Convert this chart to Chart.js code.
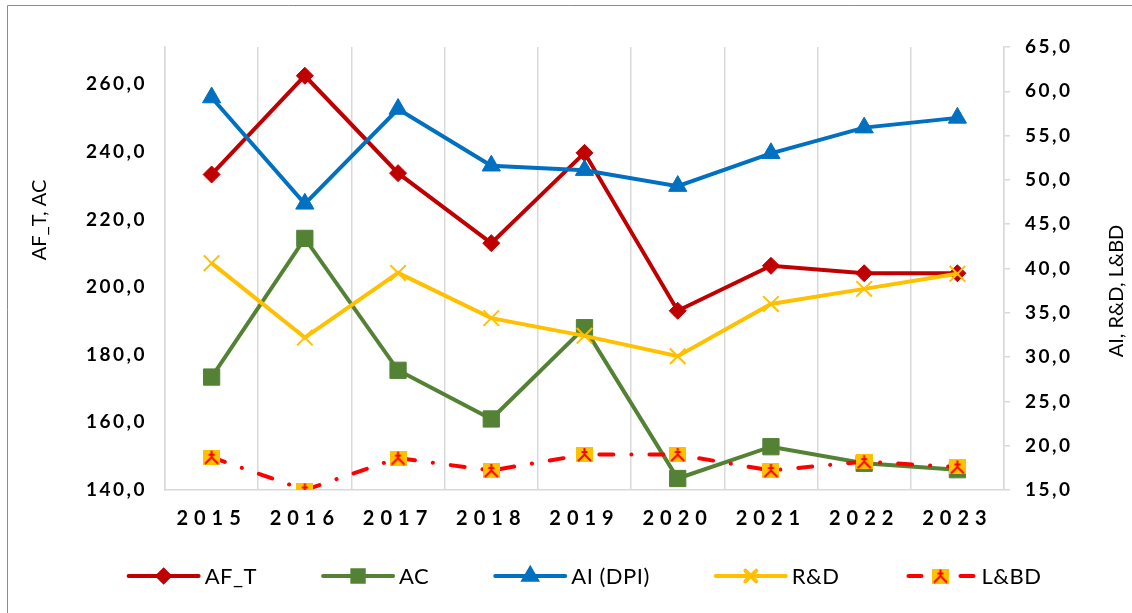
<!DOCTYPE html>
<html>
<head>
<meta charset="utf-8">
<script src="https://cdn.jsdelivr.net/npm/chart.js@4.4.1/dist/chart.umd.min.js"></script>
<style>
  html, body { margin: 0; padding: 0; background: #fff; }
  #wrap { width: 1132px; height: 613px; }
</style>
</head>
<body>
<div id="wrap"><canvas id="myChart" width="1132" height="613"></canvas></div>
<script>
const years = ['2015', '2016', '2017', '2018', '2019', '2020', '2021', '2022', '2023']

// left axis series
const afT = [233.3, 262.5, 233.7, 213.0, 239.7, 193.0, 206.3, 204.1, 204.1]
const ac = [173.4, 214.4, 175.4, 161.0, 188.0, 143.4, 152.8, 147.9, 146.0]

// right axis series
const aiDpi = [59.3, 47.3, 58.0, 51.6, 51.1, 49.3, 53.0, 55.9, 57.0]
const rnd = [40.6, 32.2, 39.5, 34.4, 32.4, 30.1, 36.0, 37.7, 39.4]
const lbd = [18.7, 15.0, 18.6, 17.2, 19.0, 19.0, 17.2, 18.2, 17.6]

const leftTitle = 'AF_T, AC'
const rightTitle = 'AI, R&D, L&BD'

const ctx = document.getElementById('myChart').getContext('2d')

// yellow box with red star, like the excel marker
function makeStarBox(){
    const c = document.createElement('canvas')
    c.width = 17
    c.height = 15
    const g = c.getContext('2d')
    g.fillStyle = '#FFC000'
    g.fillRect(0, 0, 17, 15)
    g.strokeStyle = '#FF0000'
    g.lineWidth = 2
    g.beginPath()
    g.moveTo(8.5, 1); g.lineTo(8.5, 8)
    g.moveTo(8.5, 7.5); g.lineTo(2, 14)
    g.moveTo(8.5, 7.5); g.lineTo(15, 14)
    g.moveTo(5.5, 5); g.lineTo(11.5, 5)
    g.stroke()
    return c
}
const starBox = makeStarBox()

const fmt = v => v.toFixed(1).replace('.', ',')

const framePlugin = {
    id: 'frame',
    beforeDraw(chart){
        const c = chart.ctx
        c.save()
        c.fillStyle = '#fff'
        c.fillRect(0, 0, chart.width, chart.height)
        c.strokeStyle = '#8c8c8c'
        c.lineWidth = 1
        c.beginPath()
        c.moveTo(7.5, chart.height)
        c.lineTo(7.5, 5.5)
        c.lineTo(chart.width, 5.5)
        c.stroke()
        c.restore()

        // spaced out tick labels
        const spacing = {x: '6px', y: '2.5px', y1: '2.5px'}
        Object.keys(spacing).forEach(id => {
            const s = chart.scales[id]
            if(!s || s._spaced) return
            const orig = s.drawLabels
            s.drawLabels = function(area){
                const prev = this.ctx.letterSpacing
                this.ctx.letterSpacing = spacing[id]
                orig.call(this, area)
                this.ctx.letterSpacing = prev
            }
            s._spaced = true
        })
    },
    afterDraw(chart){
        const c = chart.ctx
        c.save()
        c.fillStyle = '#000'
        c.font = '20px Lato'
        c.textAlign = 'center'
        c.textBaseline = 'middle'
        c.translate(40, 220)
        c.rotate(-Math.PI / 2)
        c.fillText(leftTitle, 0, 0)
        c.restore()

        c.save()
        c.fillStyle = '#000'
        c.font = '20px Lato'
        c.textAlign = 'center'
        c.textBaseline = 'middle'
        c.translate(1117, 291)
        c.rotate(-Math.PI / 2)
        c.fillText(rightTitle, 0, 0)
        c.restore()

        // legend: line + marker + label
        c.save()
        c.font = '22px Lato'
        c.letterSpacing = '0.5px'
        c.textBaseline = 'middle'
        const lineLen = 70, textGap = 6, itemGap = 66
        const sets = chart.data.datasets
        const widths = sets.map(d => c.measureText(d.label).width)
        let total = itemGap * (sets.length - 1)
        widths.forEach(w => total += lineLen + textGap + w)
        let x = 585 - total / 2
        const y = 576
        sets.forEach((ds, i) => {
            c.strokeStyle = ds.borderColor
            c.lineWidth = ds.borderWidth
            c.lineCap = 'round'
            if(ds.borderDash){
                c.beginPath(); c.moveTo(x + 3, y); c.lineTo(x + 16, y); c.stroke()
                c.beginPath(); c.moveTo(x + 55, y); c.lineTo(x + 68, y); c.stroke()
            } else {
                c.beginPath(); c.moveTo(x, y); c.lineTo(x + lineLen, y); c.stroke()
            }
            c.fillStyle = ds.pointBackgroundColor
            c.strokeStyle = ds.pointBorderColor
            Chart.helpers.drawPoint(c, {
                pointStyle: ds.pointStyle,
                radius: ds.pointRadius * 0.7,
                borderWidth: ds.pointBorderWidth,
                rotation: 0
            }, x + lineLen / 2, y)
            c.fillStyle = '#000'
            c.fillText(ds.label, x + lineLen + textGap, y + 1)
            x += lineLen + textGap + widths[i] + itemGap
        })
        c.restore()
    }
}

const myChart = new Chart(ctx, {
    type: 'line',
    data: {
        labels: years,
        datasets: [{
            label: 'AF_T',
            data: afT,
            yAxisID: 'y',
            order: 5,
            borderColor: '#C00000',
            borderWidth: 4,
            pointStyle: 'rectRot',
            pointRadius: 8.5,
            pointBackgroundColor: '#C00000',
            pointBorderColor: '#C00000',
            pointBorderWidth: 1
        },
        {
            label: 'AC',
            data: ac,
            yAxisID: 'y',
            order: 4,
            borderColor: '#548235',
            borderWidth: 4,
            pointStyle: 'rect',
            pointRadius: 11.5,
            pointBackgroundColor: '#548235',
            pointBorderColor: '#548235',
            pointBorderWidth: 1
        },
        {
            label: 'AI (DPI)',
            data: aiDpi,
            yAxisID: 'y1',
            order: 3,
            borderColor: '#0070C0',
            borderWidth: 4,
            pointStyle: 'triangle',
            pointRadius: 10.5,
            pointBackgroundColor: '#0070C0',
            pointBorderColor: '#0070C0',
            pointBorderWidth: 1
        },
        {
            label: 'R&D',
            data: rnd,
            yAxisID: 'y1',
            order: 2,
            borderColor: '#FFC000',
            borderWidth: 4,
            pointStyle: 'crossRot',
            pointRadius: 11,
            pointBackgroundColor: '#FFC000',
            pointBorderColor: '#FFC000',
            pointBorderWidth: 2
        },
        {
            label: 'L&BD',
            data: lbd,
            yAxisID: 'y1',
            order: 1,
            borderColor: '#FF0000',
            borderWidth: 4,
            borderDash: [14, 18, 0.1, 18],
            borderCapStyle: 'round',
            pointStyle: starBox,
            pointRadius: 8,
            pointBackgroundColor: '#FFC000',
            pointBorderColor: '#FF0000',
            pointBorderWidth: 1
        }]
    },
    options: {
        responsive: false,
        animation: false,
        layout: { padding: { top: 47, left: 0, right: 0, bottom: 0 } },
        plugins: {
            legend: { display: false },
            tooltip: { enabled: false }
        },
        scales: {
            x: {
                offset: true,
                grid: { offset: true, color: '#D9D9D9', lineWidth: 1.5, drawTicks: false },
                border: { color: '#D9D9D9', width: 1.5 },
                ticks: { color: '#000', font: { family: 'Lato', size: 20, weight: 'bold' }, padding: 17 },
                afterFit(scale){ scale.height = 123 }
            },
            y: {
                position: 'left',
                min: 140,
                max: 271,
                grid: { drawOnChartArea: false, drawTicks: false, color: '#D9D9D9' },
                border: { color: '#D9D9D9', width: 1.5 },
                ticks: {
                    stepSize: 20,
                    includeBounds: false,
                    color: '#000',
                    padding: 18,
                    font: { family: 'Lato', size: 19, weight: 'bold' },
                    callback: v => fmt(v)
                },
                afterFit(scale){ scale.width = 165 }
            },
            y1: {
                position: 'right',
                min: 15,
                max: 65,
                grid: { drawOnChartArea: false, drawTicks: true, tickLength: 6, color: '#D9D9D9', lineWidth: 1.5 },
                border: { color: '#D9D9D9', width: 1.5 },
                ticks: {
                    stepSize: 5,
                    color: '#000',
                    padding: 15,
                    font: { family: 'Lato', size: 19, weight: 'bold' },
                    callback: v => fmt(v)
                },
                afterFit(scale){ scale.width = 128 }
            }
        }
    },
    plugins: [framePlugin]
})
</script>
</body>
</html>
